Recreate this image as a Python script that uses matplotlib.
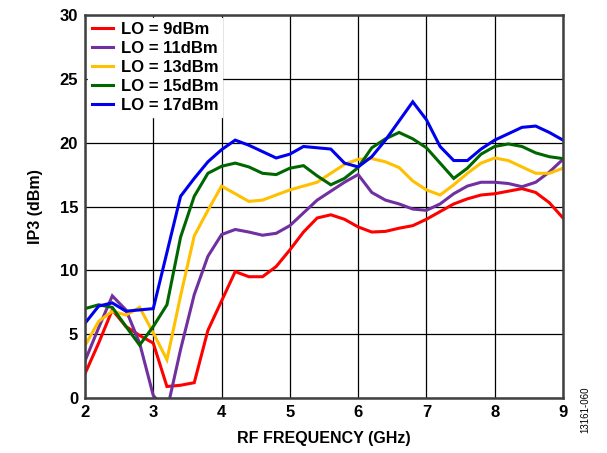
import numpy as np
import matplotlib
matplotlib.use('Agg')
import matplotlib.pyplot as plt

plt.rcParams['font.family'] = ['Liberation Sans', 'DejaVu Sans']
plt.rcParams['font.weight'] = 'bold'

freq = np.round(np.arange(2.0, 9.01, 0.2), 1)

lo_9 = [1.9, 4.3, 6.9, 5.6, 4.9, 4.3, 0.9, 1.0, 1.2, 5.3, 7.6, 9.9, 9.5, 9.5, 10.3,
        11.6, 13.0, 14.1, 14.35, 14.0, 13.4, 13.0, 13.05, 13.3, 13.5, 14.0, 14.6,
        15.2, 15.6, 15.9, 16.0, 16.2, 16.4, 16.1, 15.3, 14.1]
lo_11 = [2.9, 5.5, 8.0, 6.9, 4.3, 0.2, -1.0, 3.8, 8.1, 11.1, 12.8, 13.2, 13.0, 12.75,
         12.9, 13.5, 14.5, 15.5, 16.2, 16.9, 17.5, 16.1, 15.5, 15.2, 14.8, 14.7,
         15.2, 16.0, 16.6, 16.9, 16.9, 16.8, 16.55, 16.9, 17.7, 18.7]
lo_13 = [4.1, 6.0, 6.8, 6.5, 7.1, 5.1, 3.0, 8.0, 12.7, 14.7, 16.6, 16.0, 15.4, 15.5,
         15.9, 16.3, 16.6, 16.9, 17.6, 18.3, 18.7, 18.75, 18.5, 18.05, 17.0, 16.3,
         15.9, 16.7, 17.6, 18.4, 18.8, 18.6, 18.1, 17.6, 17.6, 18.0]
lo_15 = [7.0, 7.3, 7.1, 5.6, 4.15, 5.6, 7.3, 12.6, 15.8, 17.6, 18.15, 18.4, 18.1,
         17.6, 17.5, 18.0, 18.2, 17.4, 16.7, 17.2, 18.05, 19.6, 20.3, 20.8, 20.3,
         19.6, 18.4, 17.2, 18.0, 19.1, 19.7, 19.9, 19.7, 19.2, 18.9, 18.75]
lo_17 = [5.85, 7.2, 7.45, 6.8, 6.9, 7.0, 11.4, 15.8, 17.2, 18.5, 19.45, 20.2, 19.8,
         19.3, 18.8, 19.1, 19.7, 19.6, 19.5, 18.4, 18.1, 18.9, 20.2, 21.7, 23.2,
         21.8, 19.7, 18.6, 18.6, 19.5, 20.2, 20.7, 21.2, 21.3, 20.8, 20.2]

labels = ['LO = 9dBm', 'LO = 11dBm', 'LO = 13dBm', 'LO = 15dBm', 'LO = 17dBm']
colors = ['#ff0000', '#7030a0', '#ffc000', '#006600', '#0000ee']
series = [lo_9, lo_11, lo_13, lo_15, lo_17]

fig = plt.figure(figsize=(6.07, 4.53), dpi=100)
ax = fig.add_axes([0.140, 0.1214, 0.7875, 0.8455])

for vals, col, lab in zip(series, colors, labels):
    ax.plot(freq, vals, color=col, lw=2.2, label=lab, solid_joinstyle='miter')

ax.set_xlim(2, 9)
ax.set_ylim(0, 30)
ax.set_xticks(range(2, 10))
ax.set_yticks(range(0, 31, 5))
ax.grid(True, color='black', lw=0.9)
ax.set_axisbelow(True)
for s in ax.spines.values():
    s.set_color('#404040')
    s.set_linewidth(1.8)
ax.tick_params(length=0, labelsize=12, pad=5)
for t in ax.get_xticklabels() + ax.get_yticklabels():
    t.set_fontweight('bold')

ax.set_xlabel('RF FREQUENCY (GHz)', fontsize=11.5, fontweight='bold', labelpad=8)
ax.set_ylabel('IP3 (dBm)', fontsize=11.5, fontweight='bold', labelpad=12)

leg = ax.legend(loc='upper left', frameon=True, fancybox=False, framealpha=1,
                edgecolor='white', fontsize=12, handlelength=1.3,
                handletextpad=0.45, labelspacing=0.25, borderpad=0.2,
                borderaxespad=0.2)
for t in leg.get_texts():
    t.set_fontweight('bold')

fig.text(0.964, 0.095, '13161-060', rotation=90, fontsize=7, fontweight='normal',
         ha='center', va='center')

fig.savefig('out.png', dpi=100)
